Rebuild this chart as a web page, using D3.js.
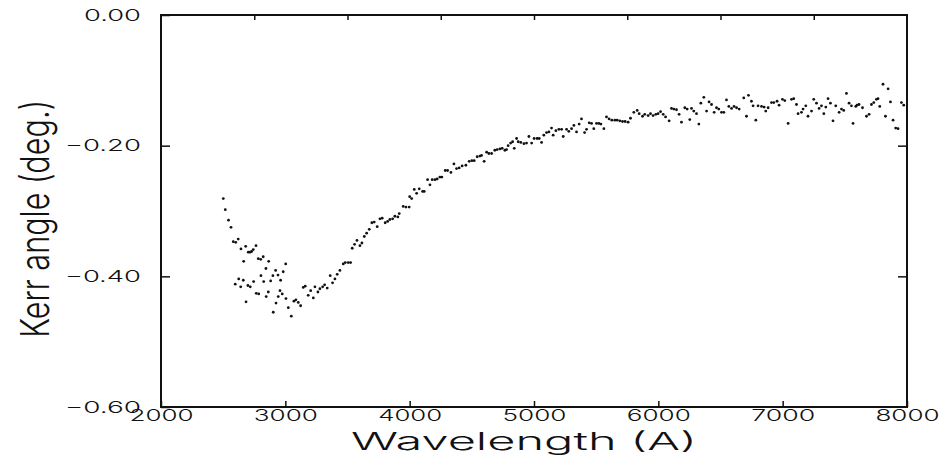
<!DOCTYPE html>
<html>
<head>
<meta charset="utf-8">
<script src="https://cdnjs.cloudflare.com/ajax/libs/d3/7.8.5/d3.min.js"></script>
<style>
  body { margin: 0; background: #fff; }
  .tick-label { font-family: Inter, Lato, "DejaVu Sans", sans-serif; font-weight: 300; font-size: 16px; fill: #111; }
  .axis-title { font-family: Inter, Lato, "DejaVu Sans", sans-serif; font-weight: 300; fill: #111; }
</style>
</head>
<body>
<svg class="kerr-chart"></svg>
<script>
var wavelength = [
  2501,2517,2543,2563,2581,2601,2621,2643,2681,2702,2716,2729,2742,2764,2665,2782,2802,2822,2866,2844,
  3003,2922,2983,2804,2900,2941,2625,2662,2597,2641,2699,2718,2745,2826,2882,2962,2766,2786,2863,2846,
  2957,2975,2943,3005,2684,2925,2903,3024,3048,3069,3085,3104,3123,3144,3160,3184,3204,3225,3238,3262,
  3278,3300,3316,3337,3361,3380,3399,3417,3439,3466,3482,3506,3525,3538,3557,3576,3600,3616,3635,3654,
  3675,3696,3715,3739,3761,3779,3803,3823,3841,3863,3881,3905,3916,
  3948,3970,3996,4000,4016,4037,4056,4077,4104,4117,4144,4163,4181,4203,4221,4243,4259,4286,4305,4332,
  4356,4377,4398,4422,4452,4479,4500,4519,4543,4565,4578,4599,4619,4637,4659,4685,4704,4726,4744,4766,
  4779,4792,4812,4828,4841,4860,4873,4894,4919,4940,4959,4981,5001,5025,5042,5061,5079,5101,5120,5141,
  5154,5176,5200,5222,5235,5262,5280,5302,5321,5342,5363,5382,5407,5423,5444,5463,5481,5503,5522,5538,
  5562,5583,5604,5626,5650,5669,5690,5712,5733,5757,5776,5803,5830,5846,
  5873,5891,5918,5937,5958,5980,5998,6018,6039,6058,6087,6106,6125,6146,6167,6186,6213,6232,6253,6267,
  6285,6307,6326,6342,6366,6388,6408,6428,6449,6468,6486,6508,6527,6548,6567,6589,6609,6629,6650,6687,
  6709,6725,6749,6762,6784,6802,6830,6851,6864,6883,6910,6929,6955,6971,6998,7017,7044,7071,7089,7111,
  7124,7151,7164,7186,7204,7232,7250,7272,7293,7312,7331,7347,7365,7384,7405,7427,7454,7473,7491,7513,
  7534,7553,7566,7588,7598,7614,7642,7674,7695,7714,7733,7754,7767,7781,7807,7827,7848,7867,7888,7909,
  7928,7955,7974
];

var kerr = [
  -0.281,-0.298,-0.314,-0.325,-0.347,-0.348,-0.343,-0.358,-0.354,-0.363,-0.363,-0.362,-0.359,-0.353,-0.377,-0.373,-0.374,-0.370,-0.377,-0.388,
  -0.381,-0.391,-0.393,-0.399,-0.399,-0.398,-0.404,-0.406,-0.412,-0.416,-0.414,-0.416,-0.408,-0.408,-0.407,-0.406,-0.426,-0.427,-0.424,-0.431,
  -0.422,-0.427,-0.431,-0.434,-0.439,-0.441,-0.455,-0.448,-0.461,-0.438,-0.436,-0.440,-0.445,-0.417,-0.415,-0.429,-0.422,-0.433,-0.416,-0.424,
  -0.419,-0.416,-0.413,-0.418,-0.399,-0.410,-0.404,-0.397,-0.391,-0.381,-0.379,-0.379,-0.379,-0.357,-0.351,-0.345,-0.353,-0.349,-0.339,-0.334,
  -0.328,-0.318,-0.317,-0.324,-0.312,-0.311,-0.318,-0.316,-0.313,-0.312,-0.308,-0.309,-0.304,
  -0.293,-0.294,-0.294,-0.278,-0.281,-0.267,-0.273,-0.266,-0.270,-0.270,-0.252,-0.260,-0.252,-0.252,-0.251,-0.248,-0.248,-0.238,-0.238,-0.241,
  -0.228,-0.235,-0.234,-0.231,-0.230,-0.224,-0.223,-0.223,-0.217,-0.216,-0.215,-0.224,-0.210,-0.212,-0.212,-0.207,-0.206,-0.205,-0.204,-0.207,
  -0.206,-0.200,-0.196,-0.194,-0.204,-0.189,-0.194,-0.195,-0.197,-0.196,-0.186,-0.196,-0.189,-0.189,-0.189,-0.195,-0.184,-0.180,-0.179,-0.173,
  -0.184,-0.177,-0.175,-0.175,-0.186,-0.175,-0.178,-0.174,-0.169,-0.179,-0.167,-0.159,-0.180,-0.175,-0.165,-0.166,-0.174,-0.166,-0.166,-0.167,
  -0.174,-0.156,-0.159,-0.161,-0.161,-0.161,-0.162,-0.163,-0.163,-0.164,-0.158,-0.149,-0.146,-0.151,
  -0.155,-0.152,-0.154,-0.151,-0.154,-0.152,-0.151,-0.148,-0.152,-0.156,-0.162,-0.143,-0.144,-0.145,-0.152,-0.164,-0.142,-0.144,-0.160,-0.143,
  -0.147,-0.151,-0.167,-0.135,-0.126,-0.147,-0.133,-0.137,-0.149,-0.142,-0.144,-0.149,-0.149,-0.130,-0.140,-0.143,-0.140,-0.142,-0.144,-0.127,
  -0.155,-0.123,-0.132,-0.139,-0.161,-0.139,-0.140,-0.141,-0.147,-0.142,-0.134,-0.134,-0.132,-0.138,-0.129,-0.131,-0.166,-0.129,-0.128,-0.137,
  -0.151,-0.149,-0.144,-0.139,-0.155,-0.147,-0.129,-0.135,-0.143,-0.139,-0.151,-0.141,-0.128,-0.135,-0.162,-0.139,-0.149,-0.144,-0.146,-0.120,
  -0.135,-0.139,-0.166,-0.140,-0.138,-0.137,-0.142,-0.155,-0.152,-0.137,-0.134,-0.129,-0.128,-0.140,-0.106,-0.155,-0.113,-0.133,-0.161,-0.173,
  -0.174,-0.134,-0.138
];

var xTicks = [2000, 3000, 4000, 5000, 6000, 7000, 8000];
var yTicks = [0, -0.2, -0.4, -0.6];
var topTicks = [2750, 3500, 4250, 5000, 5750, 6500, 7250];

var xLabel = "Wavelength  (A)";
var yLabel = "Kerr angle (deg.)";

drawKerr();

function drawKerr() {
  var margin = {top: 15, right: 39, bottom: 51, left: 161};
  var width = 946 - margin.left - margin.right;
  var height = 458 - margin.top - margin.bottom;

  var x = d3.scaleLinear().domain([2000, 8000]).range([0, width]);
  var y = d3.scaleLinear().domain([-0.6, 0]).range([height, 0]);

  var svg = d3.select(".kerr-chart")
    .attr("width", width + margin.left + margin.right)
    .attr("height", height + margin.top + margin.bottom);

  var chart = svg.append("g")
    .attr("transform", "translate(" + margin.left + "," + margin.top + ")");

  // frame
  chart.append("rect")
    .attr("width", width)
    .attr("height", height)
    .attr("fill", "none")
    .attr("stroke", "#111")
    .attr("stroke-width", 2);

  // bottom axis, ticks point inward
  var bottom = chart.append("g")
    .attr("transform", "translate(0," + height + ")")
    .call(d3.axisBottom(x).tickValues(xTicks).tickFormat(d3.format("d"))
      .tickSizeInner(-6).tickSizeOuter(0).tickPadding(3));
  bottom.select(".domain").remove();
  bottom.selectAll("line").attr("stroke", "#111").attr("stroke-width", 1.5);
  bottom.selectAll("text")
    .attr("class", "tick-label")
    .attr("font-family", null)
    .attr("font-size", null)
    .attr("textLength", 64)
    .attr("lengthAdjust", "spacingAndGlyphs");

  // left axis
  var left = chart.append("g")
    .call(d3.axisLeft(y).tickValues(yTicks).tickFormat(d3.format(".2f"))
      .tickSizeInner(-9).tickSizeOuter(0).tickPadding(20));
  left.select(".domain").remove();
  left.selectAll("line").attr("stroke", "#111").attr("stroke-width", 1.5);
  left.selectAll("text")
    .attr("class", "tick-label")
    .attr("font-family", null)
    .attr("font-size", null)
    .attr("textLength", function(d) { return d < 0 ? 76 : 57; })
    .attr("lengthAdjust", "spacingAndGlyphs")
    .text(function(d) { return d3.format(".2f")(d).replace("-", "\u2212"); });

  // top ticks
  var top = chart.append("g")
    .call(d3.axisTop(x).tickValues(topTicks).tickSizeInner(-5).tickSizeOuter(0).tickFormat(""));
  top.select(".domain").remove();
  top.selectAll("line").attr("stroke", "#111").attr("stroke-width", 1.5);

  // right ticks
  var right = chart.append("g")
    .attr("transform", "translate(" + width + ",0)")
    .call(d3.axisRight(y).tickValues([-0.2, -0.4]).tickSizeInner(-9).tickSizeOuter(0).tickFormat(""));
  right.select(".domain").remove();
  right.selectAll("line").attr("stroke", "#111").attr("stroke-width", 1.5);

  // data points
  var points = wavelength.map(function(w, i) { return {w: w, k: kerr[i]}; });
  chart.selectAll(".dot")
    .data(points)
    .enter().append("circle")
    .attr("class", "dot")
    .attr("cx", function(d) { return x(d.w); })
    .attr("cy", function(d) { return y(d.k); })
    .attr("r", 1.4)
    .attr("fill", "#111");

  // axis titles
  chart.append("text")
    .attr("class", "axis-title")
    .attr("x", 363)
    .attr("y", height + 43)
    .attr("text-anchor", "middle")
    .attr("font-size", 24)
    .attr("textLength", 346)
    .attr("lengthAdjust", "spacingAndGlyphs")
    .text(xLabel);

  chart.append("text")
    .attr("class", "axis-title")
    .attr("transform", "rotate(-90)")
    .attr("x", 0 - (height * 0.52))
    .attr("y", 49 - margin.left)
    .attr("text-anchor", "middle")
    .attr("font-size", 40)
    .attr("textLength", 238)
    .attr("lengthAdjust", "spacingAndGlyphs")
    .text(yLabel);
}
</script>
</body>
</html>
